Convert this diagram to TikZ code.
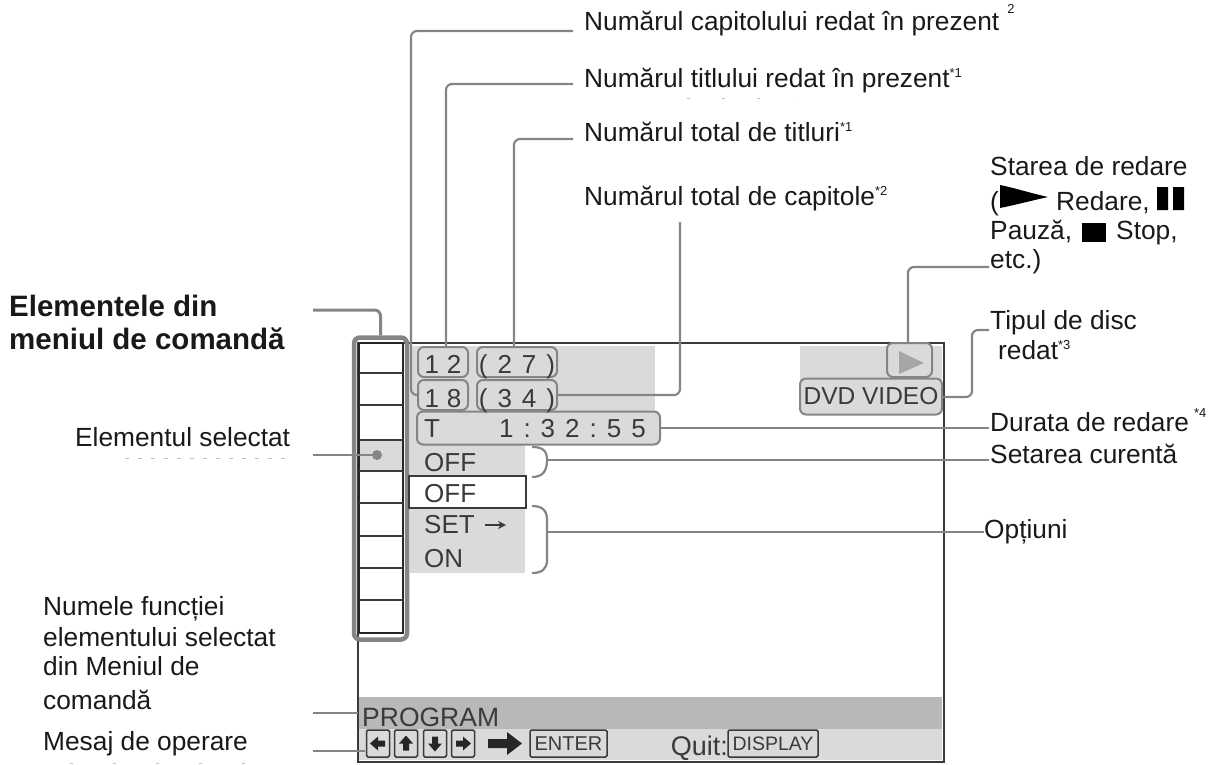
\documentclass[tikz,border=0pt]{standalone}
\usepackage{fontspec}
\setmainfont{Liberation Sans}
\usetikzlibrary{arrows.meta}
\definecolor{leadgray}{HTML}{858585}
\definecolor{bandgray}{HTML}{DADADA}
\definecolor{darkband}{HTML}{B8B8B8}
\definecolor{inkgray}{HTML}{3A3A3A}
\newcommand{\dgap}{\hspace{10pt}}
\newcommand{\starnote}[1]{\raisebox{10pt}{\fontsize{13}{13}\selectfont #1}}
\tikzset{
 lbl/.style={anchor=west,inner sep=0pt,text height=19pt,text depth=6pt,text=black!90,font=\fontsize{26.3}{30}\selectfont},
 boldlbl/.style={lbl,font=\bfseries\fontsize{29.5}{32}\selectfont},
 lead/.style={draw=leadgray,line width=2.2pt,rounded corners=6pt},
 shown/.style={anchor=base,inner sep=0pt,text=inkgray,font=\fontsize{26}{28}\selectfont},
 pill/.style={draw=leadgray,line width=2pt,rounded corners=6pt,fill=bandgray,inner sep=0pt},
 keybox/.style={draw=inkgray,line width=1.5pt,rounded corners=1.5pt,fill=bandgray,inner sep=0pt},
 brace/.style={draw=leadgray,line width=2.2pt},
 scanmark/.style={draw=black!25,line width=1pt,dash pattern=on 4pt off 9pt}
}
\begin{document}
\begin{tikzpicture}[x=1pt,y=-1pt]
\useasboundingbox (0,0) rectangle (1212,765);
% grey areas on the screen
\fill[bandgray] (410,346) rectangle (655,445);
\fill[bandgray] (800,346) rectangle (942,382);
\fill[bandgray] (410,445) rectangle (525,476);
\fill[bandgray] (410,508) rectangle (525,573);
\fill[darkband] (359,697) rectangle (942,729);
\fill[bandgray] (359,729) rectangle (942,760);
\fill[bandgray] (359,440) rectangle (403,471);
\draw[draw=inkgray,line width=2pt] (357.5,343) rectangle (943.5,762);
% menu column
\draw[draw=black!85,line width=2pt] (359,343) rectangle (403,633);
\foreach \y in {373,405,440,471,503,536,568,600} {
   \draw[draw=inkgray,line width=1.5pt] (359,\y) -- (403,\y);
}
\node[draw=leadgray,line width=4.5pt,rounded corners=6pt,minimum width=53pt,minimum height=302pt,inner sep=0pt] (menubox) at (380.5,488.5) {};
\node[circle,fill=leadgray,minimum size=10pt,inner sep=0pt] (seldot) at (377,455) {};
% counters
\node[pill,minimum width=50pt,minimum height=30pt] (chapbox) at (443,362) {};
\node[pill,minimum width=80pt,minimum height=30pt] (titlesbox) at (517,362) {};
\node[pill,minimum width=50pt,minimum height=30pt] (titlebox) at (443,395) {};
\node[pill,minimum width=80pt,minimum height=30pt] (chapsbox) at (517,395) {};
\node[pill,minimum width=243pt,minimum height=33pt] (timebox) at (538.5,428) {};
\node[shown] at (443,373) {1\hspace{8pt}2};
\node[shown] at (517,373) {(\dgap 2\dgap 7\dgap)};
\node[shown] at (443,407) {1\hspace{8pt}8};
\node[shown] at (517,407) {(\dgap 3\dgap 4\dgap)};
\node[shown,anchor=base west] at (424,437) {T};
\node[shown,anchor=base east] at (646,437) {1\dgap :\dgap 3\dgap 2\dgap :\dgap 5\dgap 5};
\node[pill,minimum width=45pt,minimum height=34pt] (playbox) at (909.5,360) {};
\fill[black!35] (899,351) -- (924,363) -- (899,374) -- cycle;
\node[pill,minimum width=142pt,minimum height=36pt,font=\fontsize{24.5}{26}\selectfont,text=inkgray] (discbox) at (871,396.5) {DVD VIDEO};
% menu texts
\node[draw=inkgray,line width=2pt,fill=white,minimum width=117pt,minimum height=32pt,inner sep=0pt] (curbox) at (467,492) {};
\node[shown,anchor=base west] (offa) at (424,471) {OFF};
\node[shown,anchor=base west] (offb) at (424,502) {OFF};
\node[shown,anchor=base west] (setopt) at (424,533) {SET};
\coordinate (setarrow) at (485,525);
\draw[-{Stealth[length=8pt,width=8pt]},draw=inkgray,line width=1.8pt] (setarrow) -- ++(21,0);
\node[shown,anchor=base west] (onopt) at (424,567) {ON};
\coordinate (curtip) at (547,460);
\coordinate (opttip) at (547,532);
\draw[brace] (532,447) .. controls (542,447) and (547,450) .. (curtip) .. controls (547,472) and (542,477) .. (532,477);
\draw[brace] (532,506) .. controls (542,506) and (547,510) .. (547,520) -- (opttip) -- (547,560) .. controls (547,569) and (542,573) .. (532,573);
% bottom bands
\node[shown,anchor=base west,font=\fontsize{26.5}{28}\selectfont] (prog) at (362,726) {PROGRAM};
\foreach \x/\r in {378/180,406/90,435/-90,463/0} {
   \node[keybox,minimum width=23pt,minimum height=27pt] (key\x) at (\x,743.5) {};
   \fill[black!85,rotate around={\r:(\x,743.5)}] (\x+8,743.5) -- (\x,736.5) -- (\x,740.5) -- (\x-7,740.5) -- (\x-7,746.5) -- (\x,746.5) -- (\x,750.5) -- cycle;
}
\fill[black!85] (488,739) -- (507,739) -- (507,732) -- (522,743.5) -- (507,755) -- (507,748) -- (488,748) -- cycle;
\node[keybox,minimum width=77pt,minimum height=27pt,text=inkgray,font=\fontsize{20}{22}\selectfont] (enterkey) at (568.5,743.5) {ENTER};
\node[shown,anchor=base east,font=\fontsize{27}{28}\selectfont] (quit) at (728,755) {Quit:};
\node[keybox,minimum width=90pt,minimum height=27pt,text=inkgray,font=\fontsize{19.5}{22}\selectfont] (dispkey) at (773,743.5) {DISPLAY};
% labels on the top
\node[lbl] (capnow) at (584,24.5) {Numărul capitolului redat în prezent\hspace{8pt}\raisebox{7pt}{\starnote{2}}};
\node[lbl] (titnow) at (584,81.5) {Numărul titlului redat în prezent\starnote{*1}};
\node[lbl] (tittot) at (584,135.5) {Numărul total de titluri\starnote{*1}};
\node[lbl] (captot) at (584,198.5) {Numărul total de capitole\starnote{*2}};
% labels on the right
\node[lbl] (state) at (990,168.5) {Starea de redare};
\node[lbl] (stateb) at (990,203.5) {(};
\fill[black] (1000,185) .. controls (1015,188) and (1030,193) .. (1048,197) .. controls (1030,201) and (1015,205) .. (1000,208) -- cycle;
\node[lbl] (statec) at (1056,203.5) {Redare,};
\fill[black] (1157,187) rectangle (1168,210) (1173,187) rectangle (1184,210);
\node[lbl] (stated) at (990,232.5) {Pauză,};
\fill[black] (1082,223) rectangle (1106,242);
\node[lbl] (statee) at (1116,232.5) {Stop,};
\node[lbl] (statef) at (990,261.5) {etc.)};
\node[lbl] (disc) at (990,322.5) {Tipul de disc};
\node[lbl] (discb) at (998,352.5) {redat\starnote{*3}};
\node[lbl] (dura) at (990,424.5) {Durata de redare\hspace{5pt}\raisebox{4pt}{\starnote{*4}}};
\node[lbl] (setcur) at (990,456.5) {Setarea curentă};
\node[lbl] (optiuni) at (984,532) {Opțiuni};
% labels on the left
\node[boldlbl] (elem) at (9,309.5) {Elementele din};
\node[boldlbl] (elemb) at (9,342.5) {meniul de comandă};
\node[lbl] (selct) at (75,439.5) {Elementul selectat};
\node[lbl] (numea) at (43,608.5) {Numele funcției};
\node[lbl] (numeb) at (43,639.5) {elementului selectat};
\node[lbl] (numec) at (43,668.5) {din Meniul de};
\node[lbl] (numed) at (43,702.5) {comandă};
\node[lbl] (mesaj) at (43,743.5) {Mesaj de operare};
% connectors
\coordinate (capfrom) at (573,31);
\coordinate (capend) at (411,395);
\coordinate (titfrom) at (573,84);
\coordinate (titend) at (446,347);
\coordinate (totfrom) at (573,139);
\coordinate (totend) at (514,347);
\coordinate (chapsend) at (680,222);
\coordinate (statetip) at (908,343);
\coordinate (statefrom) at (989,267);
\coordinate (discfrom) at (989,330);
\coordinate (disctip) at (943,397);
\coordinate (elemfrom) at (313,310);
\coordinate (selfrom) at (313,455);
\coordinate (progfrom) at (313,713);
\coordinate (progto) at (358,713);
\coordinate (mesfrom) at (313,751);
\coordinate (mesto) at (365,751);
\draw[lead] (capfrom) -| (capend) -- (titlebox.west);
\draw[lead] (titfrom) -| (titend);
\draw[lead] (totfrom) -| (totend);
\draw[lead] (chapsend) |- (chapsbox.east);
\draw[lead] (statefrom) -| (statetip);
\draw[lead] (discfrom) -- (972,330) |- (disctip);
\draw[lead] (timebox.east) -- (989,428);
\draw[lead] (curtip) -- (989,460);
\draw[lead] (opttip) -- (optiuni.west);
\draw[lead,line width=3pt] (elemfrom) -| (menubox.north);
\draw[lead] (selfrom) -- (seldot);
\draw[lead] (progfrom) -- (progto);
\draw[lead] (mesfrom) -- (mesto);
% marks left by the scan
\draw[scanmark] (125,458) -- (290,458);
\draw[scanmark,dash pattern=on 3pt off 32pt] (687,99) -- (792,99);
\draw[scanmark,dash pattern=on 3pt off 40pt] (70,763) -- (275,763);
\end{tikzpicture}
\end{document}
